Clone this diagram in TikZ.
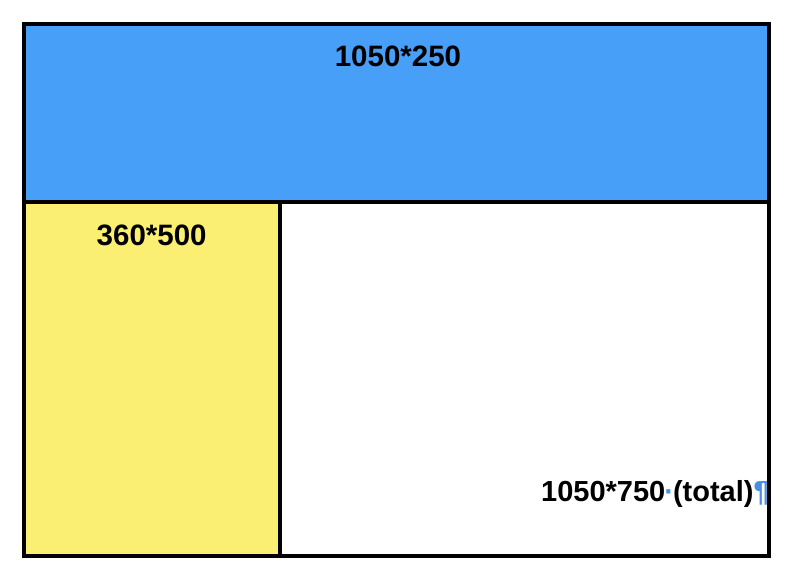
\documentclass[tikz,border=0pt]{standalone}
\usepackage{fontspec}
\setmainfont{Liberation Sans}
\definecolor{bandblue}{RGB}{71,159,248}
\definecolor{boxyellow}{RGB}{251,239,115}
\definecolor{markblue}{RGB}{74,144,226}
\tikzset{
  edge/.style={draw=black,line width=4pt},
  lbl/.style={inner sep=0pt,anchor=base,font=\fontsize{29.5}{33}\selectfont\bfseries}
}
\begin{document}
\begin{tikzpicture}[x=1pt,y=-1pt]
\useasboundingbox (0,0) rectangle (788,578);
\fill[white] (0,0) rectangle (788,578);
\fill[bandblue] (24,24) rectangle (768.5,201.5);
\fill[boxyellow] (24,201.5) rectangle (279.5,556);
\node[lbl] (top) at (398,67) {1050*250};
\node[lbl] (yel) at (151.7,245) {360*500};
\node[lbl,anchor=base west,font=\fontsize{29}{33}\selectfont\bfseries] (tot) at (541,501) {1050*750{\color{markblue}\kern-1pt·\kern-1pt}(total){\color{markblue}¶}};
\draw[edge] (24,201.5) -- (768.5,201.5);
\draw[edge] (279.5,201.5) -- (279.5,556);
\draw[edge] (24,24.5) rectangle (768.5,556);
\end{tikzpicture}
\end{document}
